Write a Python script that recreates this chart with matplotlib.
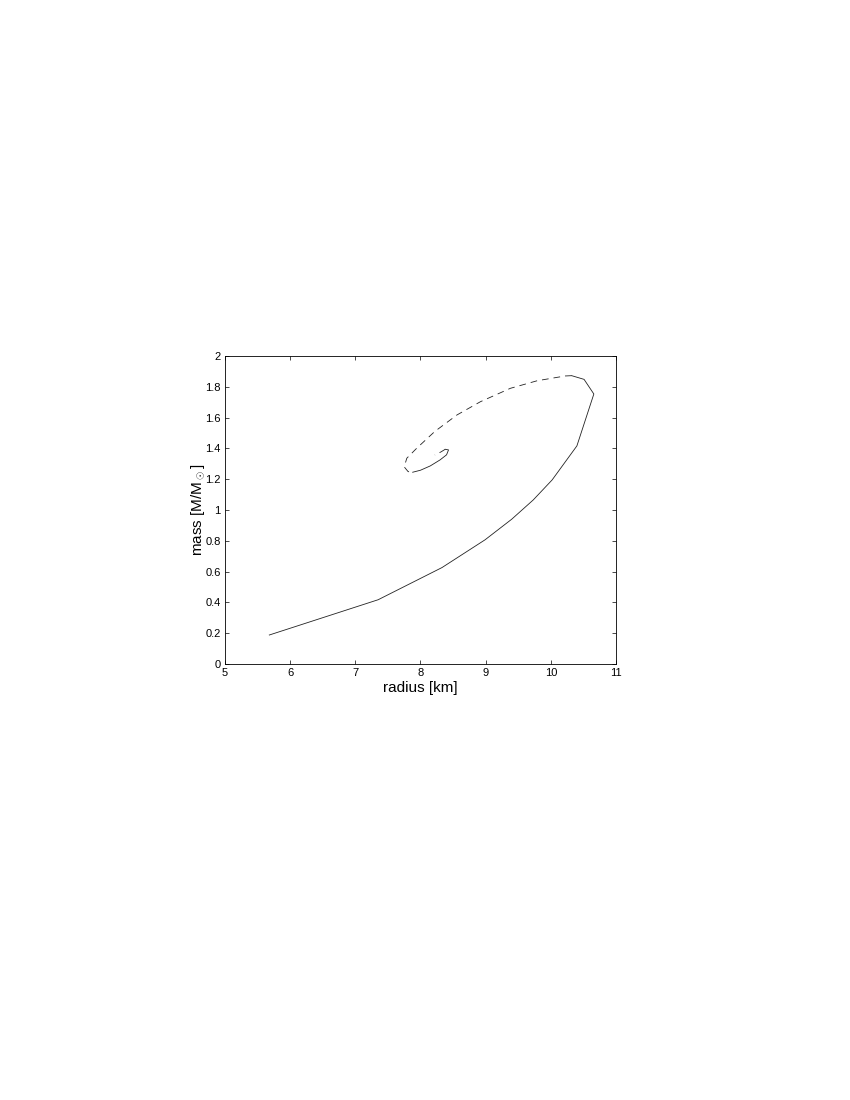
import matplotlib.pyplot as plt

plt.rcParams['font.family'] = ['Liberation Sans', 'DejaVu Sans']
plt.rcParams['mathtext.fontset'] = 'custom'
plt.rcParams['mathtext.rm'] = 'Liberation Sans'

# stable branch (solid)
r_stable = [5.68, 7.35, 8.33, 8.99, 9.40, 9.73, 10.02, 10.40, 10.66, 10.51, 10.32]
m_stable = [0.188, 0.417, 0.626, 0.806, 0.94, 1.065, 1.195, 1.416, 1.753, 1.848, 1.872]

# unstable branch (dashed)
r_unstable = [10.32, 10.22, 9.79, 9.38, 8.92, 8.56, 8.22, 7.94, 7.79, 7.75, 7.81, 7.88]
m_unstable = [1.872, 1.870, 1.839, 1.790, 1.703, 1.617, 1.510, 1.400, 1.336, 1.280, 1.249, 1.245]

# inner spiral (solid)
r_inner = [7.88, 8.00, 8.15, 8.30, 8.40, 8.43, 8.38]
m_inner = [1.245, 1.258, 1.286, 1.325, 1.358, 1.390, 1.394]

# inner spiral tail (dashed)
r_tail = [8.38, 8.31, 8.22]
m_tail = [1.394, 1.376, 1.357]

fig = plt.figure(figsize=(8.5, 11), dpi=100)
ax = fig.add_axes([0.2647, 0.3964, 0.46, 0.28])

ax.plot(r_stable, m_stable, '-', color='#222222', lw=0.6)
ax.plot(r_unstable, m_unstable, '--', color='#222222', lw=0.6, dashes=(8, 6))
ax.plot(r_inner, m_inner, '-', color='#222222', lw=0.6)
ax.plot(r_tail, m_tail, '--', color='#222222', lw=0.6, dashes=(8, 6))

ax.set_xlim(5, 11)
ax.set_ylim(0, 2)
ax.set_xticks(range(5, 12))
ax.set_yticks([0, 0.2, 0.4, 0.6, 0.8, 1, 1.2, 1.4, 1.6, 1.8, 2])
ax.set_yticklabels(['0', '0.2', '0.4', '0.6', '0.8', '1', '1.2', '1.4', '1.6', '1.8', '2'])
ax.tick_params(direction='in', top=True, right=True, labelsize=8, length=3, width=0.5, pad=3)
for s in ax.spines.values():
    s.set_linewidth(0.6)

ax.set_xlabel('radius [km]', fontsize=11, labelpad=2)
ax.set_ylabel(r'mass [M/M$_\odot$]', fontsize=11, labelpad=-1.5)

fig.savefig('out.png')
